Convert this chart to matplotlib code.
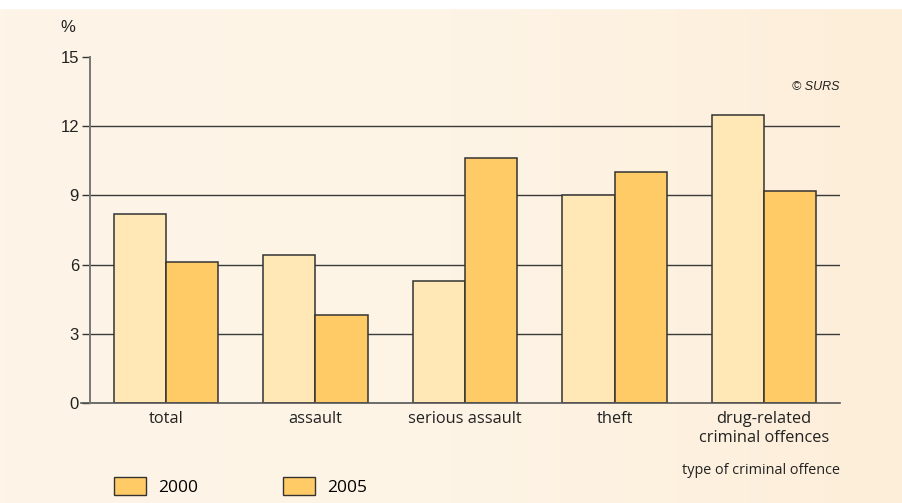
import numpy as np
import matplotlib
matplotlib.use("Agg")
import matplotlib.pyplot as plt
from matplotlib.patches import Patch
from matplotlib.colors import LinearSegmentedColormap

categories = ["total", "assault", "serious assault", "theft",
              "drug-related\ncriminal offences"]
years = ["2000", "2005"]
values_2000 = [8.2, 6.4, 5.3, 9.0, 12.5]
values_2005 = [6.1, 3.8, 10.6, 10.0, 9.2]
yticks = [0, 3, 6, 9, 12, 15]

c2000 = "#FFE8B6"
c2005 = "#FFCB66"
edge = "#333333"

fig = plt.figure(figsize=(9.02, 5.03), dpi=100)

# background gradient
bg = fig.add_axes([0, 0, 1, 1], zorder=-10)
grad = np.linspace(0, 1, 256).reshape(1, -1)
cm = LinearSegmentedColormap.from_list("bg", ["#FDF5E8", "#FDF4E6", "#FDEED9"])
bg.imshow(grad, aspect="auto", cmap=cm, extent=[0, 1, 0, 1])
bg.axhspan(0.985, 1.0, color="white")
bg.set_xlim(0, 1)
bg.set_ylim(0, 1)
bg.axis("off")

ax = fig.add_axes([90 / 902, 100 / 503, 750 / 902, 346 / 503])
ax.patch.set_alpha(0)

x = np.arange(len(categories))
w = 0.35
ax.bar(x - w / 2, values_2000, w, color=c2000, edgecolor=edge, linewidth=1.1, zorder=3)
ax.bar(x + w / 2, values_2005, w, color=c2005, edgecolor=edge, linewidth=1.1, zorder=3)

ax.set_xlim(-0.508, len(categories) - 1 + 0.508)
ax.set_ylim(0, 15)

for yv in yticks[1:-1]:
    ax.axhline(yv, color="#3a3a3a", linewidth=1.0, zorder=1)
# baseline extends into tick area
ax.plot([-9 / 750, 1], [0, 0], transform=ax.transAxes, color="#555555",
        linewidth=1.2, clip_on=False, zorder=4)

for s in ["top", "right", "bottom"]:
    ax.spines[s].set_visible(False)
ax.spines["left"].set_color("#777777")
ax.spines["left"].set_linewidth(1.4)
ax.spines["left"].set_zorder(4)

ax.set_yticks(yticks)
ax.set_yticklabels([str(v) for v in yticks], family="Liberation Sans", fontsize=12,
                   color="#222222")
ax.tick_params(axis="y", direction="out", length=6, width=1.0, color="#333333", pad=2)
ax.set_xticks(x)
ax.set_xticklabels(categories, family="Open Sans", fontsize=11.8, color="#222222",
                   linespacing=1.25)
ax.tick_params(axis="x", length=0, pad=6)

fig.text(68 / 902, 1 - 28 / 503, "%", family="Liberation Sans", fontsize=12,
         color="#222222", ha="center", va="center")
fig.text(840 / 902, 1 - 87 / 503, "© SURS", family="Liberation Sans", style="italic",
         fontsize=9, color="#222222", ha="right", va="center")
fig.text(840 / 902, 1 - 470 / 503, "type of criminal offence", family="Open Sans",
         fontsize=10.4, color="#222222", ha="right", va="center")

handles = [Patch(facecolor=c2005, edgecolor=edge, linewidth=1.0) for _ in years]
fig.legend(handles, years, loc="upper left", bbox_to_anchor=(98 / 902, 1 - 461 / 503),
           ncol=2, frameon=False, handlelength=1.84, handleheight=1.27,
           columnspacing=4.9, handletextpad=0.7,
           prop={"family": "Open Sans", "size": 12.5})

fig.savefig("out.png", dpi=100)
